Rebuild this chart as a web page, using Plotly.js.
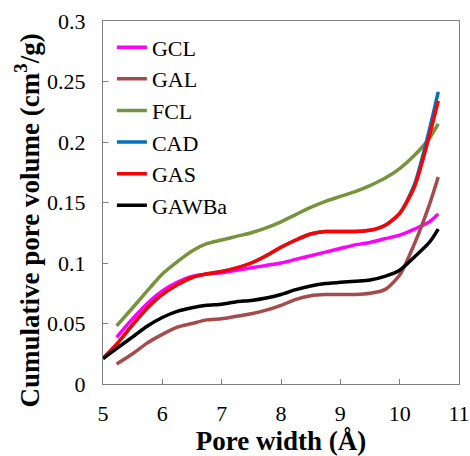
<!DOCTYPE html>
<html>
<head>
<meta charset="utf-8">
<script src="https://cdn.plot.ly/plotly-3.0.1.min.js"></script>
<style>html,body{margin:0;padding:0;background:#fff;}#chart{width:470px;height:456px;}</style>
</head>
<body>
<div id="chart"></div>
<script>
var seriesNames = ["GCL", "GAL", "FCL", "CAD", "GAS", "GAWBa"];

var xGCL = [5.23, 5.5, 5.8, 6.0, 6.25, 6.5, 6.75, 7.0, 7.25, 7.5, 7.75, 8.0, 8.25, 8.5, 8.75, 9.0, 9.25, 9.5, 9.75, 10.0, 10.25, 10.5, 10.65];
var yGCL = [0.0386, 0.054, 0.069, 0.077, 0.084, 0.089, 0.091, 0.092, 0.094, 0.096, 0.098, 0.100, 0.103, 0.106, 0.109, 0.112, 0.115, 0.117, 0.120, 0.123, 0.128, 0.134, 0.1405];

var xGAL = [5.23, 5.5, 5.75, 6.0, 6.25, 6.5, 6.75, 7.0, 7.25, 7.5, 7.75, 8.0, 8.25, 8.5, 8.75, 9.0, 9.25, 9.5, 9.75, 10.0, 10.25, 10.5, 10.65];
var yGAL = [0.0165, 0.025, 0.034, 0.041, 0.047, 0.050, 0.053, 0.054, 0.056, 0.058, 0.061, 0.065, 0.070, 0.073, 0.074, 0.074, 0.074, 0.075, 0.078, 0.090, 0.116, 0.148, 0.171];

var xFCL = [5.23, 5.5, 5.8, 6.0, 6.25, 6.5, 6.75, 7.0, 7.25, 7.5, 7.75, 8.0, 8.25, 8.5, 8.75, 9.0, 9.25, 9.5, 9.75, 10.0, 10.25, 10.5, 10.65];
var yFCL = [0.048, 0.063, 0.080, 0.091, 0.101, 0.110, 0.116, 0.119, 0.122, 0.125, 0.129, 0.134, 0.140, 0.146, 0.151, 0.155, 0.159, 0.164, 0.170, 0.178, 0.189, 0.203, 0.215];

var xCAD = [5.0, 5.25, 5.5, 5.75, 6.0, 6.25, 6.5, 6.75, 7.0, 7.25, 7.5, 7.75, 8.0, 8.25, 8.5, 8.75, 9.0, 9.25, 9.5, 9.75, 10.0, 10.25, 10.5, 10.65];
var yCAD = [0.021, 0.034, 0.049, 0.063, 0.074, 0.082, 0.088, 0.091, 0.093, 0.096, 0.100, 0.106, 0.113, 0.119, 0.124, 0.126, 0.126, 0.126, 0.127, 0.131, 0.141, 0.165, 0.210, 0.2415];

var xGAS = [5.0, 5.25, 5.5, 5.75, 6.0, 6.25, 6.5, 6.75, 7.0, 7.25, 7.5, 7.75, 8.0, 8.25, 8.5, 8.75, 9.0, 9.25, 9.5, 9.75, 10.0, 10.25, 10.5, 10.65];
var yGAS = [0.021, 0.034, 0.049, 0.063, 0.074, 0.082, 0.088, 0.091, 0.093, 0.096, 0.100, 0.106, 0.113, 0.119, 0.124, 0.126, 0.126, 0.126, 0.127, 0.131, 0.141, 0.163, 0.205, 0.234];

var xGAWBa = [5.0, 5.25, 5.5, 5.75, 6.0, 6.25, 6.5, 6.75, 7.0, 7.25, 7.5, 7.75, 8.0, 8.25, 8.5, 8.75, 9.0, 9.25, 9.5, 9.75, 10.0, 10.25, 10.5, 10.65];
var yGAWBa = [0.021, 0.030, 0.039, 0.048, 0.055, 0.060, 0.063, 0.065, 0.066, 0.068, 0.069, 0.071, 0.074, 0.078, 0.081, 0.083, 0.084, 0.085, 0.086, 0.089, 0.094, 0.105, 0.117, 0.128];

var xTickVals = [5, 6, 7, 8, 9, 10, 11];
var yTickVals = [0, 0.05, 0.1, 0.15, 0.2, 0.25, 0.3];
var yTickText = ["0", "0.05", "0.1", "0.15", "0.2", "0.25", "0.3"];
var xTitle = "<b>Pore width (Å)</b>";
var yTitle = "<b>Cumulative pore volume (cm<sup>3</sup>/g)</b>";

var colors = ["#FF00FF", "#A64B4B", "#77933C", "#0070C0", "#FF0000", "#000000"];
var xs = [xGCL, xGAL, xFCL, xCAD, xGAS, xGAWBa];
var ys = [yGCL, yGAL, yFCL, yCAD, yGAS, yGAWBa];

var FONT = "Liberation Serif";

var traces = seriesNames.map(function (n, i) {
  return {
    type: "scatter", mode: "lines", name: n, x: xs[i], y: ys[i],
    line: {color: colors[i], width: 3.5, shape: "spline", smoothing: 0.7}
  };
});

var axisCommon = {
  showline: true, linecolor: "#7f7f7f", linewidth: 1, mirror: true,
  ticks: "inside", ticklen: 5, tickcolor: "#7f7f7f", tickwidth: 1,
  showgrid: false, zeroline: false,
  tickfont: {family: FONT, size: 22, color: "#000"}
};

var layout = {
  width: 470, height: 456,
  margin: {l: 103, r: 11, t: 21, b: 72},
  paper_bgcolor: "#fff", plot_bgcolor: "#fff",
  showlegend: true,
  legend: {
    x: 0.025, y: 0.985, xanchor: "left", yanchor: "top",
    bgcolor: "rgba(0,0,0,0)",
    font: {family: FONT, size: 22, color: "#000"}
  },
  xaxis: Object.assign({}, axisCommon, {
    range: [5, 11], tickvals: xTickVals, ticklabelstandoff: 10,
    title: {text: xTitle, standoff: 10, font: {family: FONT, size: 27, color: "#000"}}
  }),
  yaxis: Object.assign({}, axisCommon, {
    range: [0, 0.3], tickvals: yTickVals, ticktext: yTickText, ticklabelstandoff: 12
  }),
  annotations: [{
    text: yTitle, xref: "paper", yref: "paper", x: 0, y: 0.4504,
    xanchor: "center", yanchor: "middle", xshift: -76, textangle: -90,
    showarrow: false, font: {family: FONT, size: 27, color: "#000"}
  }]
};

Plotly.newPlot("chart", traces, layout, {displayModeBar: false, staticPlot: true});
</script>
</body>
</html>
